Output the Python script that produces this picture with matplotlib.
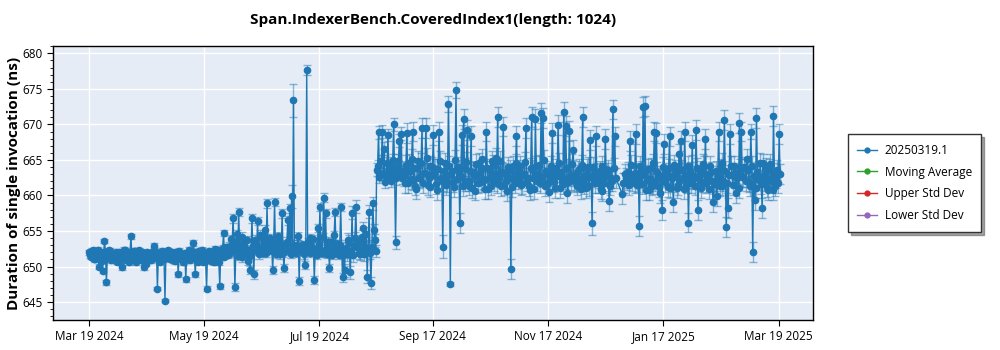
import matplotlib
matplotlib.use("Agg")
import matplotlib.pyplot as plt
import matplotlib.dates as mdates
from matplotlib.ticker import MultipleLocator, FixedLocator
import numpy as np
import pandas as pd

plt.rcParams['font.family'] = ['Open Sans', 'DejaVu Sans']

title = "Span.IndexerBench.CoveredIndex1(length: 1024)"
y_label = "Duration of single invocation (ns)"
series_names = ["20250319.1", "Moving Average", "Upper Std Dev", "Lower Std Dev"]
series_colors = ["#1f77b4", "#2ca02c", "#d62728", "#9467bd"]

first_day = "2024-03-19"
last_day = "2025-03-19"
missing_days = ["2024-12-23", "2024-12-24", "2024-12-25"]

# Mean duration (ns) of the morning run of each day, one list per month
mar24 = [652.0, 651.4, 652.3, 651.0, 651.8, 650.0, 652.1, 649.4, 653.6, 647.8, 651.5, 652.2, 651.3]
apr24 = [651.2, 652.0, 651.6, 650.8, 649.9, 651.9, 652.3, 651.1, 650.6, 654.3,
         651.7, 652.2, 651.3, 651.0, 651.4, 652.1, 649.9, 650.4, 651.5, 651.8,
         652.0, 652.9, 651.2, 646.9, 650.9, 651.6, 651.9, 645.2, 651.3, 651.7]
may24 = [651.4, 650.9, 651.8, 652.1, 648.9, 651.2, 651.7, 650.8, 648.2, 651.5,
         652.0, 651.3, 653.3, 648.9, 651.6, 652.2, 651.1, 650.7, 651.9, 646.9,
         651.4, 652.0, 651.2, 650.6, 651.8, 652.3, 647.2, 651.5, 654.7, 651.9, 652.4]
jun24 = [652.8, 653.9, 656.8, 647.1, 654.6, 657.7, 652.4, 651.3, 653.5, 652.1,
         650.8, 649.5, 656.8, 648.9, 653.2, 656.4, 652.6, 654.1, 651.9, 655.2,
         658.9, 652.3, 653.6, 649.5, 659.1, 652.8, 654.3, 651.7, 657.5, 649.8]
jul24 = [652.4, 656.5, 658.2, 659.9, 673.4, 652.6, 653.1, 648.0, 652.2, 653.0,
         650.2, 677.7, 652.5, 654.0, 652.8, 648.1, 652.3, 655.4, 658.4, 651.9,
         659.7, 657.5, 652.7, 649.8, 653.4, 652.1, 657.7, 653.2, 651.6, 658.4, 648.5]
aug24 = [649.5, 652.6, 653.8, 649.2, 657.6, 652.9, 658.4, 653.3, 651.8, 654.2,
         655.4, 652.7, 648.6, 657.7, 647.7, 658.9, 653.7, 663.6, 668.9, 663.1,
         669.0, 666.6, 662.8, 668.5, 664.2, 662.9, 670.0, 653.4, 664.0, 667.7, 668.7]
sep24 = [663.4, 661.8, 668.8, 664.5, 662.3, 669.0, 663.9, 660.9, 664.8, 662.6,
         669.5, 663.2, 669.5, 661.5, 664.1, 662.9, 668.5, 663.7, 660.8, 669.0,
         662.4, 652.8, 664.6, 661.9, 672.9, 647.6, 663.5, 661.2, 674.8, 664.0]
oct24 = [656.1, 668.5, 670.8, 662.1, 669.2, 661.4, 668.4, 663.3, 660.7, 662.8,
         664.6, 661.9, 663.8, 662.2, 669.0, 660.9, 663.4, 664.9, 662.0, 665.3,
         671.0, 662.7, 661.3, 669.7, 663.1, 660.6, 662.4, 649.6, 664.2, 661.8, 668.4]
nov24 = [662.3, 664.1, 661.6, 663.0, 669.5, 662.5, 660.8, 671.0, 663.6, 670.7,
         662.0, 664.3, 671.6, 670.9, 661.3, 663.2, 660.5, 662.7, 668.8, 661.9,
         663.8, 669.9, 661.1, 662.6, 671.8, 669.8, 660.4, 669.1, 662.2, 666.4]
dec24 = [662.9, 661.4, 663.7, 660.9, 671.0, 662.5, 661.0, 664.0, 667.8, 656.1,
         663.0, 668.4, 661.7, 663.5, 660.6, 662.8, 668.0, 663.2, 659.2, 662.4,
         672.1, 668.3, 660.2, 661.8, 662.4, 663.3, 667.7, 662.1]
jan25 = [663.0, 668.6, 661.5, 655.7, 663.4, 672.4, 672.6, 662.2, 660.8, 663.9,
         661.6, 669.0, 668.8, 662.5, 660.3, 658.0, 667.2, 663.1, 661.2, 668.3,
         662.7, 659.1, 663.6, 661.0, 665.9, 667.7, 662.4, 669.0, 661.7, 656.2, 663.3]
feb25 = [667.1, 662.8, 669.2, 658.0, 663.5, 661.9, 664.2, 668.0, 662.6, 660.9,
         663.3, 659.1, 662.0, 659.9, 669.0, 663.7, 661.4, 670.6, 655.6, 658.3,
         668.7, 662.9, 664.1, 660.4, 663.0, 670.2, 669.0, 662.6]
mar25 = [663.8, 665.2, 661.9, 669.0, 652.0, 659.4, 670.9, 662.7, 664.6, 658.3,
         662.1, 663.9, 660.8, 664.4, 662.5, 671.2, 661.3, 663.6, 668.6]

# Mean duration (ns) of the evening run of each day
mar24_b = [651.6, 652.2, 651.1, 651.9, 652.4, 651.3, 650.8, 651.7, 652.0, 651.2, 652.3, 650.9, 651.8]
apr24_b = [651.5, 650.7, 652.1, 651.8, 651.2, 652.4, 650.9, 651.6, 652.0, 651.3,
           652.2, 650.6, 651.9, 652.3, 651.1, 650.8, 651.7, 652.0, 651.4, 650.9,
           651.8, 651.2, 652.1, 651.5, 650.7, 652.2, 651.0, 651.6, 652.3, 651.1]
may24_b = [652.0, 651.3, 650.8, 651.7, 652.2, 651.0, 650.6, 651.9, 651.4, 652.3,
           650.9, 651.6, 652.1, 651.2, 650.7, 651.8, 652.4, 651.1, 650.9, 651.5,
           652.2, 650.8, 651.7, 652.5, 651.3, 650.6, 651.9, 652.6, 651.4, 652.8, 651.6]
jun24_b = [651.9, 652.7, 653.4, 652.1, 651.5, 653.0, 654.2, 652.6, 651.8, 653.7,
           652.3, 651.6, 652.9, 653.8, 652.2, 651.7, 654.5, 652.8, 653.3, 651.9,
           652.6, 654.0, 652.4, 653.1, 651.8, 652.9, 653.6, 652.5, 651.9, 653.2]
jul24_b = [653.5, 652.2, 651.8, 653.1, 652.7, 651.9, 654.3, 652.5, 653.0, 651.7,
           652.8, 653.4, 651.9, 652.6, 653.9, 652.1, 651.6, 653.2, 652.4, 654.1,
           652.0, 651.8, 653.5, 652.3, 651.6, 654.4, 652.9, 651.9, 653.1, 652.2, 651.8]
aug24_b = [652.4, 651.7, 653.5, 652.1, 651.6, 654.0, 652.8, 651.9, 653.6, 652.3,
           651.7, 654.6, 652.5, 651.9, 652.8, 655.1, 652.2, 664.1, 662.6, 664.8,
           663.0, 661.9, 664.5, 663.4, 662.1, 665.0, 663.6, 662.4, 664.9, 663.2, 662.5]
sep24_b = [662.8, 664.3, 661.7, 663.5, 665.1, 662.2, 661.4, 663.8, 662.5, 664.6,
           661.8, 663.1, 665.3, 662.4, 661.2, 664.0, 662.9, 661.6, 663.7, 664.8,
           662.1, 663.4, 661.5, 662.8, 664.2, 663.0, 661.9, 665.0, 662.3, 663.6]
oct24_b = [662.7, 661.3, 663.9, 664.7, 662.0, 663.5, 661.1, 662.9, 664.4, 661.7,
           663.2, 665.1, 662.3, 660.9, 663.8, 662.5, 661.4, 664.3, 663.0, 661.8,
           662.6, 664.9, 663.3, 661.5, 662.1, 664.0, 663.6, 661.2, 662.8, 664.5, 663.1]
nov24_b = [663.6, 661.5, 662.9, 664.7, 662.1, 661.3, 663.9, 662.4, 660.9, 664.2,
           663.0, 661.7, 662.6, 665.0, 663.4, 661.8, 662.2, 664.1, 663.1, 661.0,
           662.7, 664.6, 663.3, 661.6, 662.3, 663.8, 661.9, 662.8, 664.4, 662.0]
dec24_b = [661.9, 663.5, 662.2, 664.3, 661.6, 662.9, 663.7, 661.3, 662.6, 664.0,
           661.8, 663.2, 662.4, 660.9, 664.1, 661.7, 662.8, 663.6, 661.4, 662.1,
           663.9, 662.5, 661.8, 663.0, 662.2, 661.5, 664.3, 662.7]
jan25_b = [661.8, 663.1, 662.4, 664.2, 661.6, 662.9, 660.8, 663.7, 662.3, 661.4,
           664.5, 662.0, 663.3, 661.2, 662.7, 664.0, 661.9, 662.6, 663.8, 661.1,
           662.4, 664.3, 663.0, 661.5, 662.2, 663.6, 660.9, 662.8, 664.1, 662.5, 661.7]
feb25_b = [662.3, 661.4, 663.9, 662.6, 661.1, 664.4, 663.0, 661.8, 662.5, 664.1,
           662.0, 661.6, 663.4, 662.8, 661.3, 664.6, 662.1, 663.5, 661.7, 662.9,
           664.2, 661.5, 663.2, 662.4, 661.0, 663.8, 662.6, 664.0]
mar25_b = [662.1, 663.6, 661.3, 664.2, 662.8, 661.0, 663.3, 662.2, 661.6, 664.5,
           662.9, 661.2, 663.7, 662.0, 660.8, 663.1, 662.5, 661.7, 663.0]

morning_runs = [mar24, apr24, may24, jun24, jul24, aug24, sep24,
                oct24, nov24, dec24, jan25, feb25, mar25]
evening_runs = [mar24_b, apr24_b, may24_b, jun24_b, jul24_b, aug24_b, sep24_b,
                oct24_b, nov24_b, dec24_b, jan25_b, feb25_b, mar25_b]

# Typical standard deviation (ns) of a run in each month
monthly_std = [0.35, 0.35, 0.4, 0.6, 0.6, 0.9, 1.4, 1.4, 1.4, 1.4, 1.4, 1.4, 1.4]

# Morning runs whose standard deviation stands out
notable_std = {
    "2024-07-05": 2.3, "2024-07-12": 0.7, "2024-07-04": 1.6,
    "2024-09-22": 1.6, "2024-09-25": 1.1, "2024-09-26": 0.3,
    "2024-09-29": 1.1, "2024-10-01": 1.4, "2024-10-27": 0.3,
    "2024-12-10": 1.6, "2025-01-03": 1.0, "2025-03-04": 1.0,
    "2024-04-28": 0.2, "2024-04-24": 0.2,
}

ticks = ["2024-03-19", "2024-05-19", "2024-07-19", "2024-09-17",
         "2024-11-17", "2025-01-17", "2025-03-19"]

# ---- assemble the series (two runs per day, morning and evening)
days = pd.date_range(first_day, last_day, freq="D")
days = days[~days.isin(pd.to_datetime(missing_days))]
morning = np.concatenate([np.array(m) for m in morning_runs])
evening = np.concatenate([np.array(m) for m in evening_runs])
assert len(days) == len(morning) == len(evening)


def month_std(d):
    return monthly_std[(d.year - 2024) * 12 + d.month - 3]


std_morning = np.array([notable_std.get(d.strftime("%Y-%m-%d"), month_std(d)) for d in days])
std_evening = np.array([month_std(d) for d in days])

times = np.empty(2 * len(days), dtype="datetime64[ns]")
times[0::2] = (days + pd.Timedelta(hours=6)).values
times[1::2] = (days + pd.Timedelta(hours=18)).values
means = np.empty(2 * len(days))
means[0::2] = morning
means[1::2] = evening
stds = np.empty(2 * len(days))
stds[0::2] = std_morning
stds[1::2] = std_evening

# ---- figure
fig = plt.figure(figsize=(10, 3.5), dpi=100)
ax = fig.add_axes([0.053, 0.086, 0.7597, 0.782])
ax.set_facecolor("#e5ecf6")

ax.errorbar(times, means, yerr=stds, fmt="none", ecolor=series_colors[0],
            alpha=0.5, elinewidth=1.0, capsize=3, capthick=1.0, zorder=2)
ax.plot(times, means, color=series_colors[0], lw=1.0, marker="o",
        markersize=4.5, zorder=3)

handles = []
for name, col in zip(series_names, series_colors):
    h, = ax.plot([], [], color=col, lw=1.0, marker="o", markersize=3.5,
                 label=name)
    handles.append(h)

ax.set_xlim(pd.Timestamp("2024-02-29"), pd.Timestamp("2025-04-06"))
ax.set_ylim(642.5, 681.0)
ax.xaxis.set_major_locator(FixedLocator(mdates.date2num(pd.to_datetime(ticks))))
ax.xaxis.set_major_formatter(mdates.DateFormatter("%b %d %Y"))
ax.yaxis.set_major_locator(MultipleLocator(5))
ax.yaxis.set_minor_locator(MultipleLocator(1))
ax.grid(True, which="major", color="white", lw=1.0)
ax.set_axisbelow(True)
ax.tick_params(axis="both", labelsize=8.5, colors="black", length=4)
ax.tick_params(axis="y", which="minor", length=2)
for s in ax.spines.values():
    s.set_color("black")
    s.set_linewidth(1.0)

ax.set_ylabel(y_label, fontsize=11, fontweight="bold", labelpad=1)
ax.set_title(title, fontsize=11, fontweight="bold", pad=16)

leg = fig.legend(handles=handles, loc="center left",
                 bbox_to_anchor=(0.842, 0.477), fontsize=8.5,
                 frameon=True, fancybox=False, shadow=True,
                 edgecolor="#333333", framealpha=1.0, handlelength=1.7,
                 handletextpad=0.6, borderpad=0.8, labelspacing=0.75)
leg.get_frame().set_linewidth(1.0)

fig.savefig("out.png", dpi=100)
